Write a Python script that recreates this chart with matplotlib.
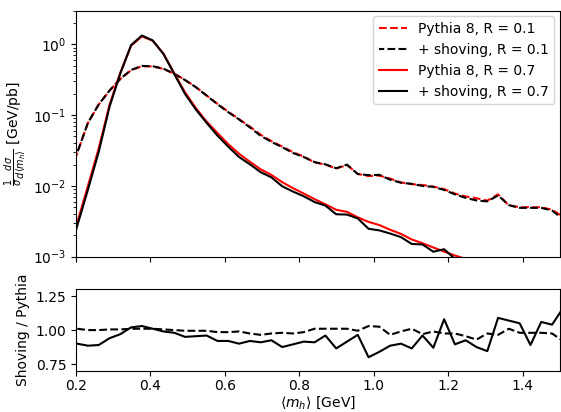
import numpy as np
import matplotlib
matplotlib.use('Agg')
import matplotlib.pyplot as plt

# bin centres <m_h> [GeV]
mass = [0.174, 0.203, 0.232, 0.261, 0.290, 0.319, 0.348, 0.377, 0.406, 0.435,
        0.464, 0.493, 0.522, 0.551, 0.580, 0.609, 0.638, 0.667, 0.696, 0.725,
        0.754, 0.783, 0.812, 0.841, 0.870, 0.899, 0.928, 0.957, 0.986, 1.015,
        1.044, 1.073, 1.102, 1.131, 1.160, 1.189, 1.218, 1.247, 1.276, 1.305,
        1.334, 1.363, 1.392, 1.421, 1.450, 1.479, 1.508]

# Pythia 8, R = 0.1
pythia_r01 = [0.012, 0.029, 0.078, 0.142, 0.222, 0.325, 0.432, 0.492, 0.488, 0.452,
              0.385, 0.315, 0.25, 0.19, 0.145, 0.112, 0.088, 0.069, 0.053, 0.043,
              0.036, 0.030, 0.026, 0.0215, 0.0200, 0.0176, 0.0198, 0.0148, 0.0138, 0.0140,
              0.0127, 0.0112, 0.0106, 0.0103, 0.0098, 0.0090, 0.0078, 0.0071, 0.0067, 0.0062,
              0.0076, 0.0053, 0.0050, 0.0050, 0.0050, 0.0046, 0.0037]

# Pythia 8, R = 0.7
pythia_r07 = [0.0009, 0.0030, 0.0100, 0.034, 0.14, 0.40, 0.96, 1.30, 1.13, 0.74,
              0.39, 0.21, 0.126, 0.081, 0.056, 0.039, 0.0285, 0.022, 0.0172, 0.0143,
              0.0113, 0.0093, 0.0078, 0.0065, 0.0055, 0.0046, 0.0043, 0.0036, 0.0031, 0.0028,
              0.0024, 0.0021, 0.00175, 0.00155, 0.00135, 0.00118, 0.00104, 0.00093, 0.00082, 0.00073,
              0.00065, 0.00058, 0.00052, 0.00046, 0.00041, 0.00037, 0.00033]

# shoving / pythia
ratio_r01 = [1.02, 1.01, 1.0, 1.0, 1.005, 1.005, 1.01, 1.01, 1.01, 1.005,
             1.0, 0.995, 0.995, 0.995, 0.985, 0.985, 0.99, 0.975, 0.965, 0.975,
             0.98, 0.975, 0.985, 1.01, 1.01, 1.01, 1.01, 0.995, 1.03, 1.025,
             0.965, 0.99, 1.01, 0.97, 0.99, 0.975, 0.975, 0.955, 0.93, 0.975,
             0.965, 1.01, 0.98, 0.98, 0.98, 0.975, 0.92]

ratio_r07 = [0.91, 0.90, 0.885, 0.89, 0.94, 0.97, 1.02, 1.03, 1.01, 0.99,
             0.98, 0.95, 0.955, 0.96, 0.92, 0.92, 0.90, 0.92, 0.91, 0.925,
             0.875, 0.895, 0.915, 0.91, 0.96, 0.865, 0.915, 0.965, 0.80, 0.84,
             0.885, 0.90, 0.865, 0.96, 0.87, 1.08, 0.895, 0.925, 0.875, 0.845,
             1.09, 1.07, 1.05, 0.89, 1.06, 1.04, 1.16]

mass = np.array(mass)
shove_r01 = np.array(pythia_r01) * np.array(ratio_r01)
shove_r07 = np.array(pythia_r07) * np.array(ratio_r07)

fig = plt.figure(figsize=(5.61, 4.12), dpi=100)
ax1 = fig.add_axes([0.1355, 0.377, 0.8625, 0.597])
ax2 = fig.add_axes([0.1355, 0.100, 0.8625, 0.1976], sharex=ax1)

ax1.plot(mass, pythia_r01, color='red', linestyle='--', label='Pythia 8, R = 0.1')
# black dashes shifted a little so the red one underneath shows through
ax1.plot(mass, shove_r01, color='black', linestyle=(1.2, (3.7, 1.6)), label='+ shoving, R = 0.1')
ax1.plot(mass, pythia_r07, color='red', linestyle='-', label='Pythia 8, R = 0.7')
ax1.plot(mass, shove_r07, color='black', linestyle='-', label='+ shoving, R = 0.7')
ax1.set_yscale('log')
ax1.set_ylim(1e-3, 3)
ax1.set_xlim(0.2, 1.5)
ax1.set_ylabel(r'$\frac{1}{\sigma}\frac{d\sigma}{d\langle m_h\rangle}$ [GeV/pb]', labelpad=3)
ax1.legend(loc='upper right', borderaxespad=0.4)
plt.setp(ax1.get_xticklabels(), visible=False)

ax2.plot(mass, ratio_r01, color='black', linestyle='--')
ax2.plot(mass, ratio_r07, color='black', linestyle='-')
ax2.set_ylim(0.7, 1.3)
ax2.set_yticks([0.75, 1.0, 1.25])
ax2.set_xlim(0.2, 1.5)
ax2.tick_params(axis='x', pad=2.5)
ax2.set_ylabel('Shoving / Pythia')
ax2.set_xlabel(r'$\langle m_h\rangle$ [GeV]', labelpad=1)

plt.savefig('out.png', dpi=100)
